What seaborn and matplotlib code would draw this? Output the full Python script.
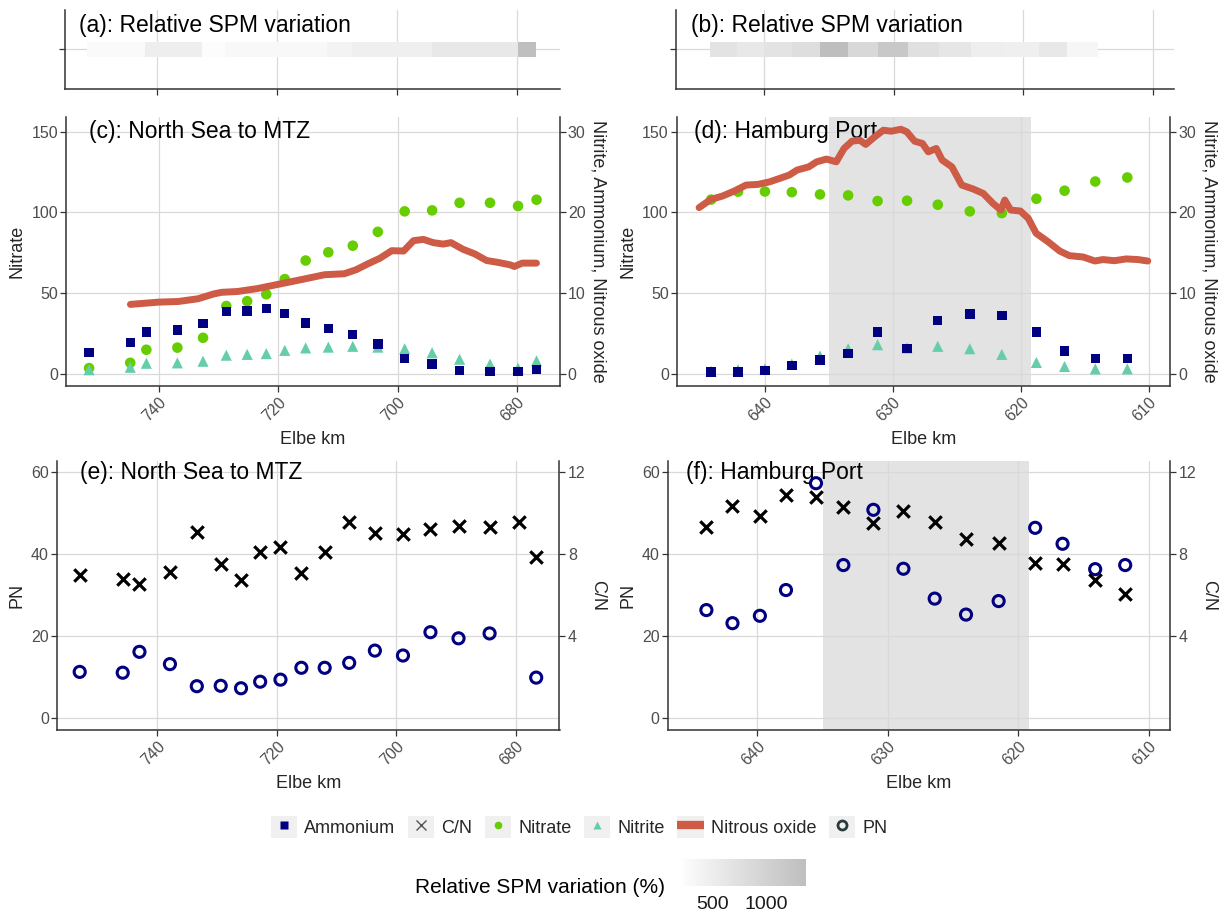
import numpy as np
import pandas as pd
import matplotlib
matplotlib.use("Agg")
import matplotlib.pyplot as plt
import seaborn as sns
from matplotlib.colors import LinearSegmentedColormap, Normalize
from matplotlib.cm import ScalarMappable
from matplotlib.lines import Line2D
from matplotlib.patches import Patch

# ---------------- data ----------------
# Panel (c): North Sea to MTZ (sample positions, Elbe km)
km_c = [751.7, 744.8, 742.1, 736.9, 732.6, 728.7, 725.2, 722.0, 718.9, 715.4,
        711.6, 707.5, 703.3, 698.8, 694.2, 689.6, 684.5, 679.8, 676.7]
nitrate_c = [3.5, 6.8, 14.9, 16.2, 22.3, 42.0, 45.0, 49.3, 58.7, 70.2,
             75.3, 79.4, 88.0, 100.7, 101.3, 106.0, 106.0, 104.0, 107.9]
ammonium_c = [2.6, 3.85, 5.2, 5.4, 6.2, 7.7, 7.8, 8.1, 7.5, 6.3,
              5.6, 4.9, 3.7, 1.9, 1.2, 0.4, 0.3, 0.3, 0.5]
nitrite_c = [0.5, 0.8, 1.3, 1.35, 1.55, 2.3, 2.4, 2.5, 2.9, 3.2,
             3.3, 3.4, 3.3, 3.1, 2.6, 1.8, 1.2, 0.7, 1.6]
n2o_km_c = [744.77, 740.07, 736.75, 733.44, 730.79, 729.46, 726.81, 723.50, 720.19,
            716.21, 712.23, 708.92, 706.93, 704.94, 702.96, 700.97, 698.98, 697.32,
            695.67, 694.01, 692.35, 691.03, 689.04, 687.05, 685.06, 683.08, 681.09,
            680.42, 679.10, 676.71]
n2o_c = [8.6, 8.88, 8.96, 9.3, 9.9, 10.1, 10.2, 10.56, 11.06, 11.66, 12.28, 12.4,
         12.9, 13.64, 14.32, 15.26, 15.22, 16.5, 16.66, 16.26, 16.08, 16.26, 15.44,
         14.86, 14.04, 13.8, 13.5, 13.3, 13.72, 13.72]

# Panel (d): Hamburg Port
km_d = [644.2, 642.1, 640.0, 637.9, 635.7, 633.5, 631.2, 628.9, 626.5, 624.0,
        621.5, 618.8, 616.6, 614.2, 611.7]
nitrate_d = [108.0, 112.9, 113.0, 112.6, 111.2, 110.6, 107.1, 107.3, 104.8, 100.7,
             99.6, 108.5, 113.5, 119.2, 121.7]
ammonium_d = [0.2, 0.2, 0.37, 1.0, 1.7, 2.5, 5.2, 3.1, 6.6, 7.4,
              7.2, 5.2, 2.8, 1.9, 1.9]
nitrite_d = [0.3, 0.5, 0.6, 1.2, 2.2, 3.1, 3.6, 3.2, 3.4, 3.1,
             2.4, 1.4, 0.9, 0.6, 0.6]
n2o_km_d = [645.14, 644.22, 643.31, 642.39, 641.47, 640.55, 639.63, 638.71, 638.10,
            637.49, 636.57, 635.96, 635.19, 634.43, 633.82, 633.20, 632.59, 632.13,
            631.52, 630.76, 630.14, 629.38, 628.92, 628.31, 627.70, 627.24, 626.62,
            626.16, 625.40, 624.63, 623.72, 622.95, 622.19, 621.57, 621.27, 620.81,
            620.05, 619.43, 618.82, 617.90, 616.98, 616.22, 615.15, 614.23, 613.61,
            612.70, 611.78, 610.86, 610.10]
n2o_d = [20.6, 21.62, 22.04, 22.66, 23.4, 23.48, 23.8, 24.3, 24.64, 25.26, 25.66,
         26.28, 26.62, 26.28, 27.94, 28.84, 28.96, 28.44, 29.26, 30.2, 30.08, 30.32,
         30.0, 28.84, 28.56, 27.52, 27.94, 26.5, 25.66, 23.4, 22.9, 22.36, 21.12,
         20.3, 21.54, 20.3, 20.18, 19.26, 17.42, 16.38, 15.22, 14.64, 14.48, 13.98,
         14.16, 14.02, 14.24, 14.16, 13.98]

# Panel (e): North Sea to MTZ, particulate
km_e_pn = [753.0, 745.8, 743.0, 737.9, 733.4, 729.4, 726.0, 722.8, 719.4, 715.9,
           712.0, 707.9, 703.6, 698.9, 694.3, 689.6, 684.4, 676.6]
pn_e = [11.2, 11.0, 16.1, 13.1, 7.7, 7.8, 7.2, 8.8, 9.3, 12.2,
        12.2, 13.4, 16.4, 15.2, 20.9, 19.4, 20.6, 9.8]
km_e_cn = [753.0, 745.8, 743.0, 737.9, 733.4, 729.4, 726.0, 722.8, 719.4, 715.9,
           712.0, 707.9, 703.6, 698.9, 694.3, 689.6, 684.4, 679.5, 676.6]
cn_e = [6.98, 6.76, 6.54, 7.1, 9.06, 7.5, 6.73, 8.08, 8.36, 7.09,
        8.1, 9.57, 9.05, 8.98, 9.24, 9.36, 9.32, 9.58, 7.87]

# Panel (f): Hamburg Port, particulate
km_f = [643.9, 641.9, 639.8, 637.8, 635.5, 633.4, 631.1, 628.8, 626.4, 624.0,
        621.5, 618.7, 616.6, 614.1, 611.8]
pn_f = [26.3, 23.1, 24.9, 31.2, 57.3, 37.3, 50.8, 36.4, 29.1, 25.2,
        28.5, 46.4, 42.5, 36.3, 37.3]
cn_f = [9.3, 10.35, 9.88, 10.9, 10.77, 10.3, 9.5, 10.1, 9.58, 8.74,
        8.52, 7.55, 7.5, 6.73, 6.05]

# Relative SPM variation (%) between consecutive stations
spm_a = [267, 267, 487, 487, 230, 304, 304, 304, 304, 304,
         395, 469, 469, 469, 598, 598, 598, 1340]
spm_b = [690, 598, 690, 782, 1370, 892, 1186, 745, 634, 487,
         469, 598, 340, np.nan]

# Hamburg port zone (shaded)
port_zone = (635.0, 619.2)

# ---------------- style ----------------
sns.set_theme(style="white")
plt.rcParams['font.family'] = ['Liberation Sans', 'DejaVu Sans']

NAVY = "#000080"
GREEN = "#66CD00"
AQUA = "#66CDAA"
CORAL = "#CD5B45"
GRID = "#d9d9d9"
SPINE = "#333333"
TICKC = "#4d4d4d"
TICKSIZE = 11.5

W, H = 1223, 921
fig = plt.figure(figsize=(W / 100, H / 100), dpi=100)


def rect(l, t, r, b):
    return [l / W, 1 - b / H, (r - l) / W, (b - t) / H]


def base_style(ax):
    ax.set_facecolor("white")
    ax.set_axisbelow(True)
    ax.grid(True, color=GRID, lw=0.9)
    ax.spines["top"].set_visible(False)
    ax.spines["right"].set_visible(False)
    for s in ["left", "bottom"]:
        ax.spines[s].set_color(SPINE)
        ax.spines[s].set_linewidth(1.1)
    ax.tick_params(axis="both", which="major", direction="out", length=4,
                   width=0.9, color=SPINE, labelsize=TICKSIZE, labelcolor=TICKC,
                   bottom=True, left=True, pad=2)


def twin_style(ax2):
    ax2.grid(False)
    for s in ["top", "left", "bottom"]:
        ax2.spines[s].set_visible(False)
    ax2.spines["right"].set_visible(True)
    ax2.spines["right"].set_color(SPINE)
    ax2.spines["right"].set_linewidth(1.1)
    ax2.tick_params(axis="y", direction="out", length=4, width=0.9, color=SPINE,
                    labelsize=TICKSIZE, labelcolor=TICKC, right=True, pad=2)


def xlab_rot(ax):
    for lab in ax.get_xticklabels():
        lab.set_rotation(45)
        lab.set_ha("right")
        lab.set_va("top")
        lab.set_rotation_mode("anchor")


cmap = LinearSegmentedColormap.from_list("spm", ["#fcfcfc", "#bebebe"])
norm = Normalize(230, 1370)


def strip(ax, km, spm, xlim, xticks, title):
    base_style(ax)
    km = np.asarray(km)
    spm = np.asarray(spm, dtype=float)
    starts = km[:-1]
    widths = np.diff(km)
    ok = ~np.isnan(spm)
    ax.bar(starts[ok], 0.24, width=widths[ok], bottom=1 - 0.12, align="edge",
           color=cmap(norm(spm[ok])), edgecolor="none", zorder=2)
    ax.set_xlim(*xlim)
    ax.set_ylim(0.4, 1.6)
    ax.set_xticks(xticks)
    ax.set_xticklabels([])
    ax.set_yticks([1])
    ax.set_yticklabels([])
    ax.text(0.03, 0.81, title, transform=ax.transAxes, ha="left", va="center",
            fontsize=16.5, color="black")


xlim_c = (755.5, 672.85)
xlim_e = (756.75, 672.7)
xlim_d = (646.85, 608.35)
ticks_c = [740, 720, 700, 680]
ticks_d = [640, 630, 620, 610]

# ---- strips (a), (b)
ax_a = fig.add_axes(rect(64.5, 10, 559.5, 89))
strip(ax_a, km_c, spm_a, xlim_c, ticks_c, "(a): Relative SPM variation")
ax_b = fig.add_axes(rect(675.7, 10, 1174, 89))
strip(ax_b, km_d, spm_b, xlim_d, ticks_d, "(b): Relative SPM variation")


def nutrient_panel(r, km, nitrate, ammonium, nitrite, n2o_km, n2o, xlim, xticks,
                   title, tx, shade=None):
    ax = fig.add_axes(rect(*r))
    base_style(ax)
    ax2 = ax.twinx()
    twin_style(ax2)
    if shade is not None:
        ax.axvspan(shade[0], shade[1], color="#e3e3e3", lw=0, zorder=0.3)
    sns.scatterplot(x=km, y=nitrate, ax=ax, color=GREEN, marker="o", s=58,
                    edgecolor="none", legend=False, zorder=3)
    sns.scatterplot(x=km, y=nitrite, ax=ax2, color=AQUA, marker="^", s=64,
                    edgecolor="none", legend=False, zorder=3)
    sns.scatterplot(x=km, y=ammonium, ax=ax2, color=NAVY, marker="s", s=46,
                    edgecolor="none", legend=False, zorder=4)
    sns.lineplot(x=n2o_km, y=n2o, ax=ax2, color=CORAL, lw=5,
                 solid_capstyle="round", solid_joinstyle="round", zorder=5,
                 legend=False, estimator=None)
    ax.set_xlim(*xlim)
    ax.set_ylim(-7.6, 159.2)
    ax2.set_ylim(-7.6 / 5, 159.2 / 5)
    ax.set_yticks([0, 50, 100, 150])
    ax2.set_yticks([0, 10, 20, 30])
    ax.set_xticks(xticks)
    ax.set_xticklabels([str(t) for t in xticks])
    xlab_rot(ax)
    ax.set_xlabel("Elbe km", fontsize=13, labelpad=5)
    ax.set_ylabel("Nitrate", fontsize=13, labelpad=4)
    ax2.set_ylabel("Nitrite, Ammonium, Nitrous oxide", fontsize=13,
                   rotation=270, va="bottom", labelpad=3)
    ax.text(tx, 150, title, ha="left", va="center", fontsize=16.5,
            color="black", zorder=6)
    return ax, ax2


nutrient_panel((66.4, 117, 559.5, 386), km_c, nitrate_c, ammonium_c, nitrite_c,
               n2o_km_c, n2o_c, xlim_c, ticks_c, "(c): North Sea to MTZ", 751.7)
nutrient_panel((677.2, 117, 1170.2, 386), km_d, nitrate_d, ammonium_d, nitrite_d,
               n2o_km_d, n2o_d, xlim_d, ticks_d, "(d): Hamburg Port", 645.5,
               shade=port_zone)


def particulate_panel(r, km_pn, pn, km_cn, cn, xlim, xticks, title, tx,
                      shade=None):
    ax = fig.add_axes(rect(*r))
    base_style(ax)
    ax2 = ax.twinx()
    twin_style(ax2)
    if shade is not None:
        ax.axvspan(shade[0], shade[1], color="#e3e3e3", lw=0, zorder=0.3)
    sns.scatterplot(x=km_pn, y=pn, ax=ax, marker="o", s=64, legend=False,
                    zorder=3)
    coll = ax.collections[-1]
    coll.set_facecolor("none")
    coll.set_edgecolor(NAVY)
    coll.set_linewidth(2.2)
    sns.scatterplot(x=km_cn, y=cn, ax=ax2, marker="x", s=80, color="black",
                    linewidth=2.3, legend=False, zorder=4)
    ax.set_xlim(*xlim)
    ax.set_ylim(-3.0, 62.8)
    ax2.set_ylim(-3.0 / 5, 62.8 / 5)
    ax.set_yticks([0, 20, 40, 60])
    ax2.set_yticks([4, 8, 12])
    ax.set_xticks(xticks)
    ax.set_xticklabels([str(t) for t in xticks])
    xlab_rot(ax)
    ax.set_xlabel("Elbe km", fontsize=13, labelpad=5)
    ax.set_ylabel("PN", fontsize=13, labelpad=4)
    ax2.set_ylabel("C/N", fontsize=13, rotation=270, va="bottom", labelpad=3)
    ax.text(tx, 60, title, ha="left", va="center", fontsize=16.5,
            color="black", zorder=2)
    return ax, ax2


particulate_panel((57.3, 460.7, 559.5, 730), km_e_pn, pn_e, km_e_cn, cn_e,
                  xlim_e, ticks_c, "(e): North Sea to MTZ", 753.0)
particulate_panel((667.9, 460.7, 1170.2, 730), km_f, pn_f, km_f, cn_f,
                  xlim_d, ticks_d, "(f): Hamburg Port", 645.5, shade=port_zone)

# ---------------- legend ----------------
KEYBG = "#f0f0f0"
handles = [
    (Patch(facecolor=KEYBG, edgecolor="none"),
     Line2D([], [], ls="none", marker="s", ms=5.5, color=NAVY, mec="none")),
    (Patch(facecolor=KEYBG, edgecolor="none"),
     Line2D([], [], ls="none", marker="x", ms=7, mew=1.0, color="#555555")),
    (Patch(facecolor=KEYBG, edgecolor="none"),
     Line2D([], [], ls="none", marker="o", ms=5.5, color=GREEN, mec="none")),
    (Patch(facecolor=KEYBG, edgecolor="none"),
     Line2D([], [], ls="none", marker="^", ms=6, color=AQUA, mec="none")),
    (Patch(facecolor=KEYBG, edgecolor="none"),
     Line2D([], [], color=CORAL, lw=6, solid_capstyle="butt")),
    (Patch(facecolor=KEYBG, edgecolor="none"),
     Line2D([], [], ls="none", marker="o", ms=6.5, mfc="none", mec="#2b3b3b",
            mew=2.0)),
]
labels = ["Ammonium", "C/N", "Nitrate", "Nitrite", "Nitrous oxide", "PN"]
fig.legend(handles, labels, loc="center", bbox_to_anchor=(579 / W, 1 - 827 / H),
           ncol=6, frameon=False, fontsize=13, handlelength=1.45,
           handleheight=1.45, handletextpad=0.4, columnspacing=0.7,
           borderpad=0.0)

# ---------------- colorbar ----------------
cax = fig.add_axes(rect(683, 859, 806, 886))
cb = fig.colorbar(ScalarMappable(norm=norm, cmap=cmap), cax=cax,
                  orientation="horizontal")
cb.outline.set_visible(False)
cb.set_ticks([500, 1000])
cb.set_ticklabels(["500", "1000"])
cax.tick_params(axis="x", direction="in", color="white", length=5, width=1,
                labelsize=14, labelcolor="#1a1a1a", top=True, bottom=True,
                labeltop=False, pad=7)
fig.text(665 / W, 1 - 887 / H, "Relative SPM variation (%)", ha="right",
         va="center", fontsize=15, color="black")

fig.savefig("out.png", dpi=100)
